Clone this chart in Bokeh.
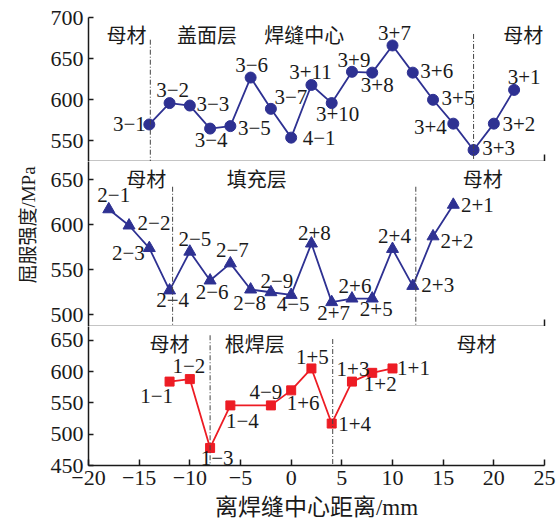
import math
from bokeh.plotting import figure
from bokeh.layouts import column
from bokeh.models import FixedTicker, Range1d, ColumnDataSource
from bokeh.core.properties import value
from bokeh.embed import file_html
from bokeh.resources import INLINE

# ---------------- data ----------------
top_x = [-14, -12, -10, -8, -6, -4, -2, 0, 2, 4, 6, 8, 10, 12, 14, 16, 18, 20, 22]
top_y = [570, 596, 593, 565, 568, 627, 589, 554, 618, 596, 634, 633, 666, 633, 600, 571, 539, 571, 612]
top_lab = ["3−1", "3−2", "3−3", "3−4", "3−5", "3−6", "3−7", "4−1", "3+11", "3+10",
           "3+9", "3+8", "3+7", "3+6", "3+5", "3+4", "3+3", "3+2", "3+1"]

mid_x = [-18, -16, -14, -12, -10, -8, -6, -4, -2, 0, 2, 4, 6, 8, 10, 12, 14, 16]
mid_y = [617, 599, 574, 527, 570, 538, 557, 528, 525, 522, 579, 514, 518, 518, 573, 532, 587, 622]
mid_lab = ["2−1", "2−2", "2−3", "2−4", "2−5", "2−6", "2−7", "2−8", "2−9", "4−5",
           "2+8", "2+7", "2+6", "2+5", "2+4", "2+3", "2+2", "2+1"]

bot_x = [-12, -10, -8, -6, -2, 0, 2, 4, 6, 8, 10]
bot_y = [584, 588, 478, 546, 546, 570, 605, 517, 584, 598, 605]
bot_lab = ["1−1", "1−2", "1−3", "1−4", "4−9", "1+6", "1+5", "1+4", "1+3", "1+2", "1+1"]

top_regions = ["母材", "盖面层", "焊缝中心", "母材"]
top_region_x = [-16.25, -8.3, 1.3, 22.9]
mid_regions = ["母材", "填充层", "母材"]
mid_region_x = [-14.3, -3.4, 18.9]
bot_regions = ["母材", "根焊层", "母材"]
bot_region_x = [-12.0, -3.6, 18.3]

top_div_x = [-13.9, 18.0]
mid_div_x = [-11.7, 12.3]
bot_div_x = [-8.0, 4.1]

x_ticks = [-20, -15, -10, -5, 0, 5, 10, 15, 20, 25]
top_yticks = [550, 600, 650, 700]
mid_yticks = [500, 550, 600, 650]
bot_yticks = [450, 500, 550, 600, 650]

# ---------------- label offsets (screen px, y down) ----------------
top_dx = [-20, 3, 23, 1, 24, 1, 20, 28, -1, 6, 2, 5, 2, 24, 25, -23, 25, 25, 10]
top_dy = [0, -13, -2, 11, 2, -13, -12, 0, -13, 11, -12, 12, -12, -2, -2, 3, -2, 0, -13]
mid_dx = [5, 25, -21, 3, 5, 2, 2, -1, 6, 2, 3, 2, 3, 4, 2, 25, 24, 24]
mid_dy = [-14, -3, 5, 10, -13, 11, -13, 13, -11, 9, -11, 11, -13, 10, -13, -1, 5, 0]
bot_dx = [-13, -1, 7, 12, -5, 12, 1, 23, 1, 8, 21]
bot_dy = [14, -13, 10, 16, -13, 13, -11, 0, -13, 11, 0]

BLUE = "#2E3192"
RED = "#ED1C24"
INK = "#1a1a1a"
SERIF = "Liberation Serif"
CJK = "'Liberation Serif', 'Noto Sans CJK SC'"
MINUS = "\u2212"

W = 556
x_range = Range1d(-20, 25)


def make_fig(yr, yticks, height, border_top, border_bottom, bottom_axis):
    p = figure(x_range=x_range, y_range=Range1d(*yr), width=W, height=height,
               min_border_left=88, min_border_right=12, min_border_top=border_top,
               min_border_bottom=border_bottom, toolbar_location=None, output_backend="svg")
    p.grid.visible = False
    p.outline_line_color = None
    p.background_fill_color = "white"
    p.border_fill_color = "white"
    ya = p.yaxis[0]
    ya.ticker = FixedTicker(ticks=yticks)
    ya.major_tick_in = 5
    ya.major_tick_out = 0
    ya.minor_tick_line_color = None
    ya.axis_line_width = 1.5
    ya.axis_line_color = INK
    ya.major_tick_line_color = INK
    ya.major_tick_line_width = 1.5
    ya.major_label_text_font = SERIF
    ya.major_label_text_font_size = "22px"
    ya.major_label_text_color = INK
    ya.major_label_standoff = 5
    xa = p.xaxis[0]
    xa.axis_line_width = 1.5
    xa.axis_line_color = INK
    xa.major_tick_line_color = INK
    xa.major_tick_line_width = 1.5
    xa.major_tick_out = 0
    if bottom_axis:
        xa.ticker = FixedTicker(ticks=x_ticks)
        xa.minor_tick_line_color = None
        xa.major_tick_in = 6
        xa.major_label_overrides = {t: (str(t).replace("-", MINUS)) for t in x_ticks}
        xa.major_label_text_font = SERIF
        xa.major_label_text_font_size = "22px"
        xa.major_label_text_color = INK
        xa.major_label_standoff = 5
        xa.axis_label = "离焊缝中心距离/mm"
        xa.axis_label_text_font = CJK
        xa.axis_label_text_font_size = "23px"
        xa.axis_label_text_font_style = "normal"
        xa.axis_label_text_color = INK
        xa.axis_label_standoff = 7
    else:
        # only the short end tick at the right edge, no labels
        xa.ticker = FixedTicker(ticks=[], minor_ticks=[25])
        xa.minor_tick_in = 7
        xa.minor_tick_out = 0
        xa.minor_tick_line_color = INK
        xa.minor_tick_line_width = 1.5
        xa.major_label_standoff = 0
    return p


def add_series(p, xs, ys, labs, dxs, dys, color, marker, msize, regions, region_x, div_x, div_top, yr):
    src = ColumnDataSource(dict(x=xs, y=ys, lab=labs, dx=dxs, dy=dys))
    p.line("x", "y", source=src, line_color=color, line_width=1.8)
    p.scatter("x", "y", source=src, marker=marker, size=msize, fill_color=color, line_color=color)
    p.text("x", "y", text="lab", x_offset="dx", y_offset="dy", source=src,
           text_font=value(SERIF), text_font_size="21px", text_color=INK,
           text_align="center", text_baseline="middle")
    rsrc = ColumnDataSource(dict(x=region_x, y=[yr[1]] * len(region_x), t=regions))
    p.text("x", "y", text="t", source=rsrc, y_offset=17, text_font=value("Noto Sans CJK SC"),
           text_font_size="20px", text_color=INK, text_align="center", text_baseline="middle")
    dsrc = ColumnDataSource(dict(x0=div_x, x1=div_x, y0=div_top, y1=[yr[0]] * len(div_x)))
    p.segment("x0", "y0", "x1", "y1", source=dsrc, line_color="#444444", line_width=1,
              line_dash="5 2 1 2")


top_yr = (525, 700)
mid_yr = (487, 670)
bot_yr = (450, 672)

p1 = make_fig(top_yr, top_yticks, 161, 17, 0, False)
add_series(p1, top_x, top_y, top_lab, top_dx, top_dy, BLUE, "circle", 11,
           top_regions, top_region_x, top_div_x, [673, 680], top_yr)

p2 = make_fig(mid_yr, mid_yticks, 165, 0, 0, False)
add_series(p2, mid_x, mid_y, mid_lab, mid_dx, mid_dy, BLUE, "triangle", 12,
           mid_regions, mid_region_x, mid_div_x, [642, 642], mid_yr)
p2.yaxis.axis_label = "\u3000\u3000屈服强度/MPa"
p2.yaxis.axis_label_text_font = CJK
p2.yaxis.axis_label_text_font_size = "19px"
p2.yaxis.axis_label_text_font_style = "normal"
p2.yaxis.axis_label_text_color = INK
p2.yaxis.axis_label_standoff = 9

p3 = make_fig(bot_yr, bot_yticks, 196, 0, 57, True)
add_series(p3, bot_x, bot_y, bot_lab, bot_dx, bot_dy, RED, "square", 9,
           bot_regions, bot_region_x, bot_div_x, [658, 652], bot_yr)

layout = column(p1, p2, p3, spacing=0)
open("out.html", "w").write(file_html(layout, INLINE))
